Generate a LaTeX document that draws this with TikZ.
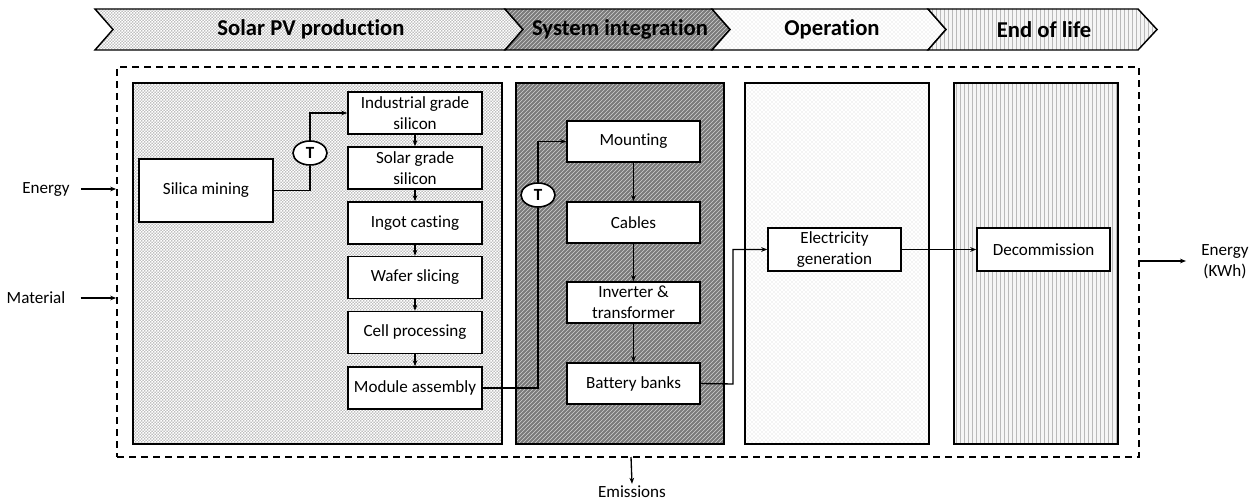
\documentclass[tikz,border=0pt]{standalone}
\usepackage{fontspec}
\setmainfont{Carlito}[Ligatures={NoCommon}]
\usetikzlibrary{patterns,shapes.geometric,arrows.meta}
\newdimen\pxu \pxu=0.75pt
\pgfdeclarepatternformonly{finecheck}{\pgfpointorigin}{\pgfqpoint{2.2pt}{2.2pt}}{\pgfqpoint{2.2pt}{2.2pt}}{%
  \pgfpathrectangle{\pgfpointorigin}{\pgfqpoint{1.1pt}{1.1pt}}%
  \pgfpathrectangle{\pgfqpoint{1.1pt}{1.1pt}}{\pgfqpoint{1.1pt}{1.1pt}}%
  \pgfusepath{fill}}
\begin{document}
\begin{tikzpicture}[x=0.75pt,y=-0.75pt,
  txt/.style={font=\fontsize{12.8}{15.6}\selectfont, align=center},
  proc/.style={txt, draw, line width=1.2pt, fill=white, inner sep=0pt, minimum width=134\pxu, minimum height=42\pxu},
  phase/.style={draw, line width=1.2pt, inner sep=0pt, minimum height=361\pxu},
  pvfill/.style={preaction={fill=gray!50}, preaction={pattern=finecheck, pattern color=white}},
  sifill/.style={preaction={fill=black!52}, preaction={pattern=north east lines, pattern color=black!18}},
  opfill/.style={preaction={fill=white}, preaction={pattern=crosshatch dots, pattern color=gray!35}},
  eolfill/.style={preaction={fill=gray!8}, preaction={pattern=vertical lines, pattern color=gray!55}},
  tnode/.style={ellipse, draw, line width=1.2pt, fill=white, inner sep=0pt, minimum width=34\pxu, minimum height=24\pxu, font=\fontsize{12.8}{14}\selectfont\bfseries},
  conn/.style={line width=1pt},
  arr/.style={conn, -{Stealth[length=4.5pt,width=3.5pt]}},
  head/.style={font=\fontsize{17}{20}\selectfont\bfseries},
  sidetxt/.style={txt, inner sep=0pt}
]
\useasboundingbox (0,0) rectangle (1259,502);

% header chevrons
\draw[pvfill, line width=1.1pt] (95,9) -- (505,9) -- (523,29.5) -- (505,50) -- (95,50) -- (113,29.5) -- cycle;
\draw[sifill, line width=1.1pt] (505,9) -- (712,9) -- (730,29.5) -- (712,50) -- (505,50) -- (523,29.5) -- cycle;
\draw[opfill, line width=1.1pt] (712,9) -- (928,9) -- (946,29.5) -- (928,50) -- (712,50) -- (730,29.5) -- cycle;
\draw[eolfill, line width=1.1pt] (928,9) -- (1138,9) -- (1157,29.5) -- (1138,50) -- (928,50) -- (946,29.5) -- cycle;
\node[head] (h1) at (311,29.5) {Solar PV production};
\node[head] (h2) at (620,29.5) {System integration};
\node[head] (h3) at (832,29.5) {Operation};
\node[head] (h4) at (1044,29.5) {End of life};

% system boundary
\node[draw, line width=1.3pt, dash pattern=on 5.5pt off 3.5pt, inner sep=0pt,
      minimum width=1022\pxu, minimum height=390\pxu] (sys) at (628,262) {};

% phase boxes
\node[phase, pvfill, minimum width=369\pxu] (pvbox) at (317.5,263.5) {};
\node[phase, sifill, minimum width=208\pxu] (sibox) at (620,263.5) {};
\node[phase, opfill, minimum width=184\pxu] (opbox) at (837,263.5) {};
\node[phase, eolfill, minimum width=164\pxu] (eolbox) at (1036,263.5) {};

% PV production
\node[proc, minimum height=63\pxu] (silica) at (206,190.5) {Silica mining};
\node[proc] (ind) at (415,113) {Industrial grade\\silicon};
\node[proc] (sol) at (415,168) {Solar grade\\silicon};
\node[proc] (ingot) at (415,223) {Ingot casting};
\node[proc] (wafer) at (415,277.5) {Wafer slicing};
\node[proc] (cell) at (415,332.5) {Cell processing};
\node[proc] (module) at (415,388) {Module assembly};
\node[tnode] (t1) at (310,153) {T};

% System integration
\node[proc, minimum width=133\pxu, minimum height=41\pxu] (mount) at (633.5,141.5) {Mounting};
\node[proc, minimum width=133\pxu, minimum height=41\pxu] (cables) at (633.5,222.5) {Cables};
\node[proc, minimum width=133\pxu, minimum height=41\pxu] (inv) at (633.5,302.5) {Inverter \&\\transformer};
\node[proc, minimum width=133\pxu, minimum height=41\pxu] (batt) at (633.5,383.5) {Battery banks};
\node[tnode] (t2) at (538,195) {T};

% Operation and end of life
\node[proc, minimum width=133\pxu, minimum height=43\pxu] (elec) at (834.5,249.5) {Electricity\\generation};
\node[proc, minimum width=133\pxu, minimum height=43\pxu] (decom) at (1043.5,249.5) {Decommission};

% connectors
\draw[conn] (silica.east) -| (t1.south);
\draw[arr] (t1.north) |- (ind.west);
\draw[arr] (ind.south) -- (sol.north);
\draw[arr] (sol.south) -- (ingot.north);
\draw[arr] (ingot.south) -- (wafer.north);
\draw[arr] (wafer.south) -- (cell.north);
\draw[arr] (cell.south) -- (module.north);
\draw[conn] (module.east) -| (t2.south);
\draw[arr] (t2.north) |- (mount.west);
\draw[arr] (mount.south) -- (cables.north);
\draw[arr] (cables.south) -- (inv.north);
\draw[arr] (inv.south) -- (batt.north);
\coordinate (bend) at (733,384);
\draw[arr] (batt.east) -- (bend) |- (elec.west);
\draw[arr] (elec.east) -- (decom.west);

% inputs and outputs
\node[sidetxt] (energy) at (46,189) {Energy};
\node[sidetxt] (material) at (36,298) {Material};
\draw[arr] (energy.east) ++(11,0) -- (sys.west |- energy.east);
\draw[arr] (material.east) ++(15,0) -- (sys.west |- material.east);
\node[sidetxt] (eout) at (1225,262) {Energy\\(KWh)};
\coordinate (eoutstart) at (1139,261);
\coordinate (eoutend) at (1186,261);
\draw[arr] (eoutstart) -- (eoutend);
\coordinate (emstart) at (631,457);
\node[sidetxt] (emis) at (632,492) {Emissions};
\draw[arr] (emstart) -- ([yshift=2\pxu]emis.north);
\end{tikzpicture}
\end{document}
